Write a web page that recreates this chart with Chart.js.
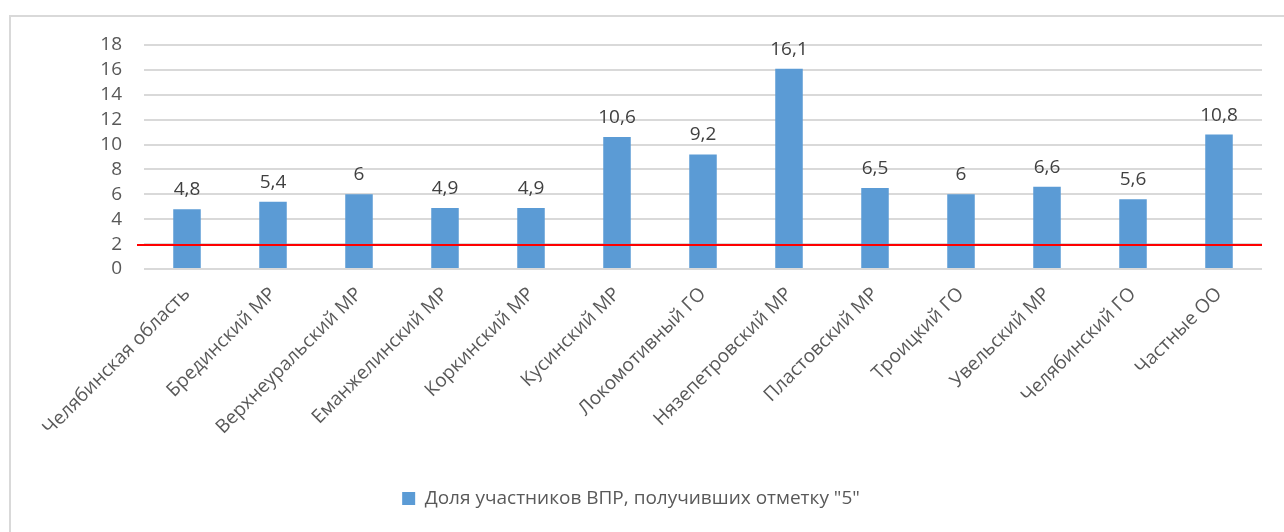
<!DOCTYPE html>
<html>
<head>
<meta charset="utf-8">
<script src="https://cdn.jsdelivr.net/npm/chart.js@4"></script>
<style>
  html, body { margin: 0; padding: 0; background: #fff; }
  #wrap { position: relative; width: 1284px; height: 532px; overflow: hidden; }
  #frame { position: absolute; left: 9px; top: 15px; width: 1400px; height: 600px;
           border-left: 2px solid #d9d9d9; border-top: 2px solid #d9d9d9; }
  #chart1 { position: absolute; left: 0; top: 0; }
</style>
</head>
<body>
<div id="wrap">
  <div id="frame"></div>
  <canvas id="chart1" width="1284" height="532"></canvas>
</div>
<script>
var districts = ["Челябинская область", "Брединский МР", "Верхнеуральский МР", "Еманжелинский МР",
  "Коркинский МР", "Кусинский МР", "Локомотивный ГО", "Нязепетровский МР", "Пластовский МР",
  "Троицкий ГО", "Увельский МР", "Челябинский ГО", "Частные ОО"];
var shareFive = [4.8, 5.4, 6, 4.9, 4.9, 10.6, 9.2, 16.1, 6.5, 6, 6.6, 5.6, 10.8];
var yTicks = [0, 2, 4, 6, 8, 10, 12, 14, 16, 18];
var redLevel = 1.9;

var grey = "#595959";
var font = "'Open Sans', 'DejaVu Sans', sans-serif";
var fontSize = 19;

// value labels above each bar, comma as decimal separator
var barLabels = {
  id: "barLabels",
  afterDatasetsDraw: function(chart) {
    var ctx = chart.ctx;
    var meta = chart.getDatasetMeta(0);
    ctx.save();
    ctx.font = fontSize + "px " + font;
    ctx.fillStyle = "#404040";
    ctx.textAlign = "center";
    ctx.textBaseline = "bottom";
    meta.data.forEach(function(bar, i) {
      ctx.fillText(String(shareFive[i]).replace(".", ","), bar.x, bar.y - 10);
    });
    ctx.restore();
  }
};

// red threshold line across the plot
var redLine = {
  id: "redLine",
  afterDatasetsDraw: function(chart) {
    var ctx = chart.ctx;
    var y = Math.round(chart.scales.y.getPixelForValue(redLevel));
    ctx.save();
    ctx.strokeStyle = "#ff0000";
    ctx.lineWidth = 2;
    ctx.beginPath();
    ctx.moveTo(chart.chartArea.left - 7, y);
    ctx.lineTo(chart.chartArea.right, y);
    ctx.stroke();
    ctx.restore();
  }
};

new Chart(document.getElementById("chart1").getContext("2d"), {
  type: "bar",
  data: {
    labels: districts,
    datasets: [{
      label: "Доля участников ВПР, получивших отметку \"5\"",
      data: shareFive,
      backgroundColor: "#5b9bd5",
      categoryPercentage: 1,
      barPercentage: 0.32
    }]
  },
  options: {
    responsive: false,
    animation: false,
    layout: { padding: { top: 45, right: 22, left: 0, bottom: 14 } },
    plugins: {
      tooltip: { enabled: false },
      legend: {
        position: "bottom",
        labels: {
          boxWidth: 13, boxHeight: 13, color: grey,
          font: { family: font, size: fontSize }
        }
      }
    },
    scales: {
      x: {
        afterFit: function(scale) { scale.height = 210; },
        grid: { display: false },
        border: { display: false },
        ticks: {
          color: grey, minRotation: 45, maxRotation: 45, padding: 6,
          autoSkip: false,
          font: { family: font, size: fontSize }
        }
      },
      y: {
        min: 0, max: 18,
        afterFit: function(scale) { scale.width = 144; },
        afterBuildTicks: function(scale) {
          scale.ticks = yTicks.map(function(v) { return { value: v }; });
        },
        grid: { color: "#d9d9d9", lineWidth: 2, drawTicks: false },
        border: { display: false },
        ticks: {
          color: grey, padding: 22, autoSkip: false,
          font: { family: font, size: fontSize }
        }
      }
    }
  },
  plugins: [barLabels, redLine]
});
</script>
</body>
</html>
